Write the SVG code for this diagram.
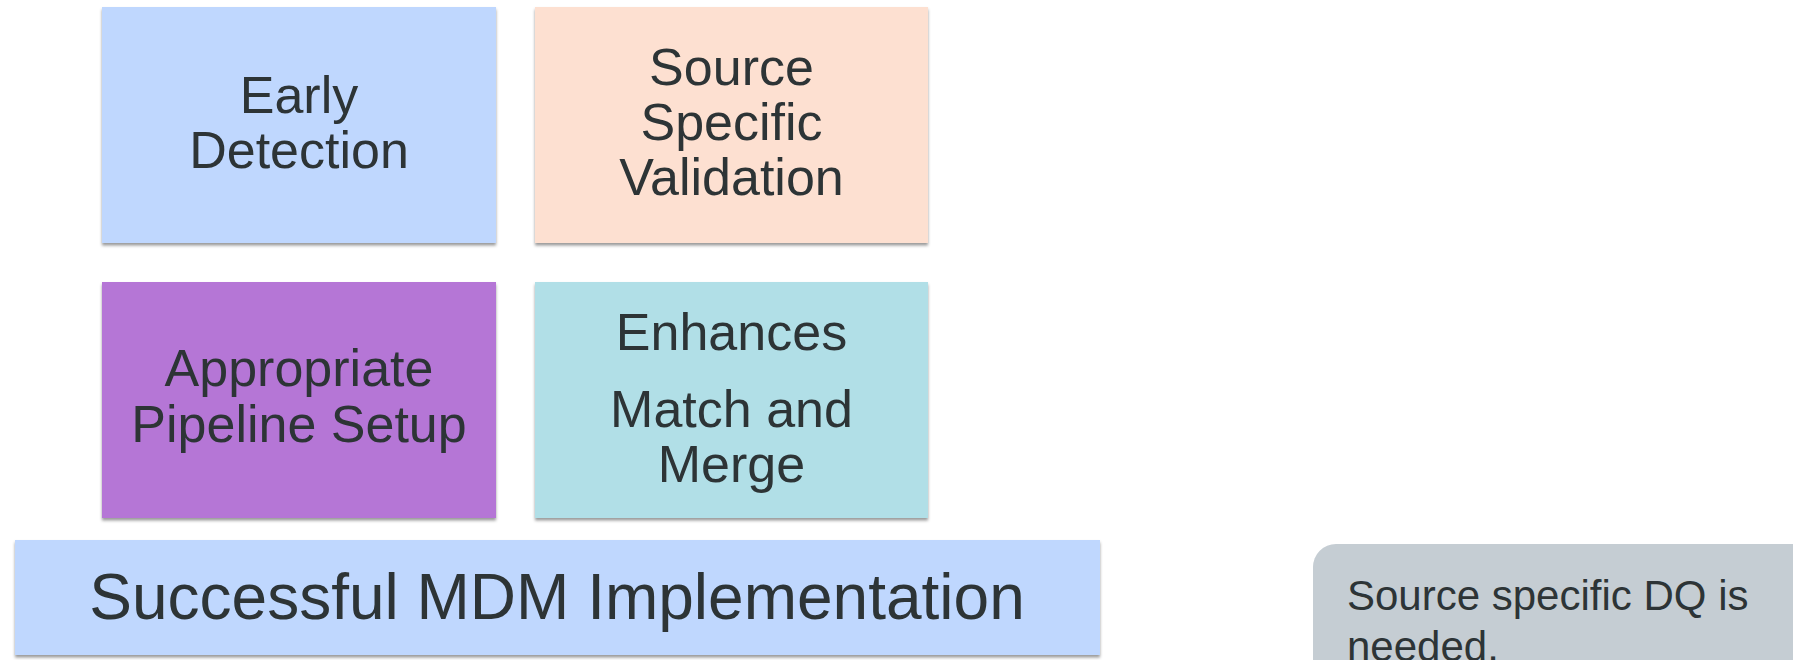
<svg xmlns="http://www.w3.org/2000/svg" width="1793" height="660" viewBox="0 0 1793 660">
<style>
.t{font-family:"Liberation Sans",Arial,sans-serif;fill:#2d3436;text-anchor:middle}
.b{font-size:52px}
.n{font-family:"Liberation Sans",Arial,sans-serif;fill:#2d3436;font-size:42px}
</style>
<defs>
<filter id="sh" x="-5%" y="-5%" width="110%" height="115%">
<feDropShadow dx="0" dy="2.5" stdDeviation="1.5" flood-color="#000" flood-opacity="0.4"/>
</filter>
</defs>
<rect width="1793" height="660" fill="#ffffff"/>
<g id="early-detection">
<rect x="102" y="7" width="394" height="236" fill="#bfd7fe" filter="url(#sh)"/>
<text class="t b" x="299" y="113">Early</text>
<text class="t b" x="299" y="168">Detection</text>
</g>
<g id="source-specific-validation">
<rect x="535" y="7" width="393" height="236" fill="#fde0d1" filter="url(#sh)"/>
<text class="t b" x="731.5" y="85">Source</text>
<text class="t b" x="731.5" y="140">Specific</text>
<text class="t b" x="731.5" y="195">Validation</text>
</g>
<g id="appropriate-pipeline-setup">
<rect x="102" y="282" width="394" height="236" fill="#b576d6" filter="url(#sh)"/>
<text class="t b" x="299" y="386">Appropriate</text>
<text class="t b" x="299" y="442">Pipeline Setup</text>
</g>
<g id="enhances-match-merge">
<rect x="535" y="282" width="393" height="236" fill="#b1dfe7" filter="url(#sh)"/>
<text class="t b" x="731.5" y="350">Enhances</text>
<text class="t b" x="731.5" y="427">Match and</text>
<text class="t b" x="731.5" y="482">Merge</text>
</g>
<g id="successful-mdm">
<rect x="15" y="540" width="1085" height="115" fill="#bfd7fe" filter="url(#sh)"/>
<text class="t" x="557" y="619" font-size="64">Successful MDM Implementation</text>
</g>
<g id="note">
<rect x="1313" y="544" width="520" height="160" rx="23" fill="#c5cdd3"/>
<text class="n" x="1347" y="610">Source specific DQ is</text>
<text class="n" x="1347" y="661">needed.</text>
</g>
<g id="connectors"></g>
</svg>
